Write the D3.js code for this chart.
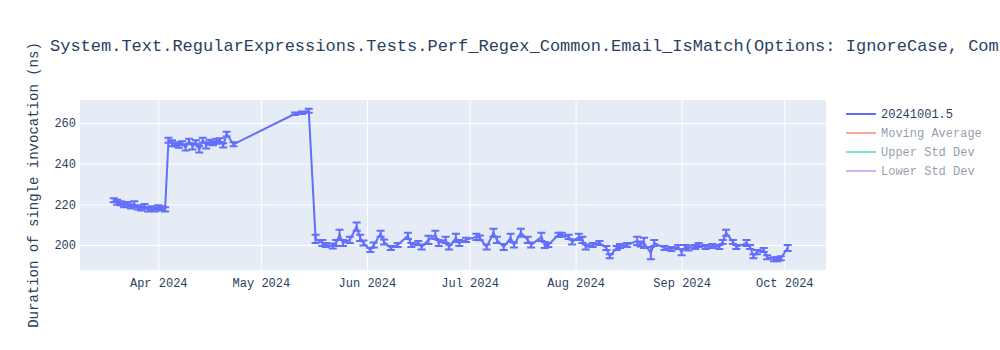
<!DOCTYPE html>
<html>
<head>
<meta charset="utf-8">
<script src="https://cdn.jsdelivr.net/npm/d3@7"></script>
<style>
  body { margin: 0; background: #fff; }
  svg text { font-family: "Courier New", Courier, "Nimbus Mono PS", "Nimbus Mono L", FreeMono, "Liberation Mono", monospace; }
</style>
</head>
<body>
<div id="chart"></div>
<script>
'use strict';

// benchmark runs (date, mean duration in ns, std dev in ns)
const runDates = [
  '2024-03-19','2024-03-20','2024-03-21','2024-03-22','2024-03-23','2024-03-24','2024-03-25','2024-03-26',
  '2024-03-27','2024-03-28','2024-03-29','2024-03-30','2024-03-31','2024-04-01','2024-04-02','2024-04-03',
  '2024-04-04','2024-04-05','2024-04-06','2024-04-07','2024-04-08','2024-04-09','2024-04-10','2024-04-11',
  '2024-04-12','2024-04-13','2024-04-14','2024-04-15','2024-04-16','2024-04-17','2024-04-18','2024-04-19',
  '2024-04-20','2024-04-21','2024-04-23',
  '2024-05-11','2024-05-13','2024-05-15',
  '2024-05-17','2024-05-19','2024-05-20','2024-05-22','2024-05-23','2024-05-24','2024-05-25','2024-05-27',
  '2024-05-29','2024-05-30','2024-05-31','2024-06-02','2024-06-03','2024-06-05','2024-06-06','2024-06-08',
  '2024-06-10','2024-06-13','2024-06-14','2024-06-16','2024-06-17','2024-06-19','2024-06-21','2024-06-22',
  '2024-06-24','2024-06-25','2024-06-27','2024-06-28','2024-06-30','2024-07-03','2024-07-04','2024-07-06',
  '2024-07-08','2024-07-09','2024-07-11','2024-07-13','2024-07-14','2024-07-16','2024-07-18','2024-07-19',
  '2024-07-22','2024-07-23','2024-07-24','2024-07-27','2024-07-28','2024-07-30','2024-07-31','2024-08-02',
  '2024-08-03','2024-08-04','2024-08-06','2024-08-08','2024-08-10','2024-08-11','2024-08-13','2024-08-14',
  '2024-08-16','2024-08-19','2024-08-20','2024-08-21','2024-08-23','2024-08-24','2024-08-27','2024-08-29',
  '2024-08-31','2024-09-01','2024-09-02','2024-09-03','2024-09-05','2024-09-06','2024-09-08','2024-09-10',
  '2024-09-12','2024-09-13','2024-09-14','2024-09-16','2024-09-17','2024-09-20','2024-09-21','2024-09-22',
  '2024-09-23','2024-09-25','2024-09-26','2024-09-28','2024-09-29','2024-09-30','2024-10-02'
];
const runValues = [
  222.0,221.0,220.5,219.5,220.0,219.0,220.0,218.5,
  218.0,219.0,217.5,218.0,217.5,218.5,218.0,217.5,
  251.5,250.0,249.5,249.0,250.0,248.0,251.0,248.5,
  250.5,247.0,251.5,249.0,250.5,250.0,251.0,251.5,
  249.0,254.5,249.5,
  264.5,265.0,266.0,
  203.0,201.0,200.0,199.5,201.0,205.0,201.0,202.5,
  209.0,203.5,201.0,197.5,200.0,205.5,201.5,198.5,
  200.0,204.5,200.0,201.0,199.0,202.5,205.0,201.0,
  202.5,199.0,203.5,201.0,202.5,204.0,203.5,199.0,
  206.0,202.5,199.0,203.5,200.0,206.0,202.5,200.0,
  204.0,200.0,200.0,205.0,205.0,204.0,201.5,204.0,
  202.5,199.0,200.0,201.0,198.5,194.5,198.5,199.5,
  200.0,202.0,200.5,201.0,196.0,201.0,198.5,198.0,
  199.0,196.5,199.0,198.5,199.0,200.0,199.0,199.5,
  199.0,201.5,206.0,201.5,199.0,201.0,199.0,194.5,
  196.5,197.5,194.0,193.0,193.0,193.5,198.5
];
const runErrors = [
  1.0,1.2,1.0,1.0,1.2,1.0,1.5,1.0,
  1.0,1.2,1.0,1.0,1.0,1.0,1.0,1.0,
  1.2,1.5,1.0,1.2,1.0,1.5,1.2,1.5,
  1.0,1.5,1.2,1.5,1.2,1.0,1.2,1.0,
  1.0,1.2,1.0,
  0.6,0.6,1.0,
  2.0,1.5,1.0,1.2,1.5,2.5,1.5,1.5,
  2.0,1.5,1.2,1.0,1.2,1.5,1.2,1.0,
  1.0,1.5,1.0,1.0,1.2,2.0,2.0,1.5,
  1.5,1.2,2.0,1.5,1.0,1.5,1.2,1.2,
  2.0,1.5,1.5,2.0,1.2,2.0,1.5,1.2,
  2.0,1.5,1.0,1.0,1.0,1.0,1.2,1.5,
  1.5,1.2,1.0,1.0,1.0,1.0,1.0,1.0,
  1.0,2.0,1.2,2.5,3.0,1.5,1.0,1.0,
  1.0,1.5,1.0,1.2,1.0,1.0,1.0,1.0,
  1.0,1.0,1.5,1.0,1.0,1.5,1.0,1.0,
  1.0,1.0,1.0,1.0,1.0,1.0,1.5
];

const legendNames = ['20241001.5', 'Moving Average', 'Upper Std Dev', 'Lower Std Dev'];
const legendColors = ['#636efa', '#EF553B', '#00cc96', '#ab63fa'];
const legendHidden = [false, true, true, true];

const yTicks = [200, 220, 240, 260];
const titleText = 'System.Text.RegularExpressions.Tests.Perf_Regex_Common.Email_IsMatch(Options: IgnoreCase, Compiled)';
const yTitle = 'Duration of single invocation (ns)';

const W = 1000, H = 350;
const plot = { left: 80, right: 826, top: 100, bottom: 270 };
const fontColor = '#2a3f5f';

const parse = d3.utcParse('%Y-%m-%d');
const points = runDates.map((d, i) => ({
  date: parse(d), value: runValues[i], err: runErrors[i]
}));

const x = d3.scaleUtc()
  .domain([new Date(Date.UTC(2024, 2, 9, 3)), new Date(Date.UTC(2024, 9, 13, 5))])
  .range([plot.left, plot.right]);
const y = d3.scaleLinear()
  .domain([187.7, 271.3])
  .range([plot.bottom, plot.top]);

const svg = d3.select('#chart').append('svg')
  .attr('width', W).attr('height', H);

svg.append('rect')
  .attr('x', plot.left).attr('y', plot.top)
  .attr('width', plot.right - plot.left).attr('height', plot.bottom - plot.top)
  .attr('fill', '#E5ECF6');

svg.append('clipPath').attr('id', 'clip')
  .append('rect')
  .attr('x', plot.left).attr('y', plot.top)
  .attr('width', plot.right - plot.left).attr('height', plot.bottom - plot.top);

// grid + axes
const xAxis = d3.axisBottom(x)
  .ticks(d3.utcMonth.every(1))
  .tickFormat(d3.utcFormat('%b %Y'))
  .tickSize(-(plot.bottom - plot.top))
  .tickPadding(8);
const $x = svg.append('g')
  .attr('transform', `translate(0, ${plot.bottom})`)
  .call(xAxis);
$x.select('.domain').remove();
$x.selectAll('.tick line').attr('stroke', '#fff').attr('stroke-width', 1);
$x.selectAll('.tick text')
  .attr('fill', fontColor).attr('font-size', 12)
  .attr('font-family', null);

const yAxis = d3.axisLeft(y)
  .tickValues(yTicks)
  .tickSize(-(plot.right - plot.left))
  .tickPadding(4);
const $y = svg.append('g')
  .attr('transform', `translate(${plot.left}, 0)`)
  .call(yAxis);
$y.select('.domain').remove();
$y.selectAll('.tick line').attr('stroke', '#fff').attr('stroke-width', 1);
$y.selectAll('.tick text')
  .attr('fill', fontColor).attr('font-size', 12)
  .attr('font-family', null);
$x.attr('font-family', null);
$y.attr('font-family', null);

// data
const $data = svg.append('g').attr('clip-path', 'url(#clip)');
const line = d3.line().x(d => x(d.date)).y(d => y(d.value));
$data.append('path')
  .datum(points)
  .attr('d', line)
  .attr('fill', 'none')
  .attr('stroke', legendColors[0])
  .attr('stroke-width', 2);

const capW = 4;
$data.selectAll('.errbar')
  .data(points)
  .enter().append('path')
  .attr('class', 'errbar')
  .attr('d', d => {
    const cx = x(d.date), y0 = y(d.value - d.err), y1 = y(d.value + d.err);
    return `M${cx - capW},${y1}h${capW * 2}m-${capW},0V${y0}m-${capW},0h${capW * 2}`;
  })
  .attr('fill', 'none')
  .attr('stroke', legendColors[0])
  .attr('stroke-width', 2);

// titles
svg.append('text')
  .attr('x', 50).attr('y', 51)
  .attr('font-size', 17)
  .attr('fill', fontColor)
  .text(titleText);

svg.append('text')
  .attr('transform', `translate(38, ${(plot.top + plot.bottom) / 2}) rotate(-90)`)
  .attr('text-anchor', 'middle')
  .attr('font-size', 14)
  .attr('fill', fontColor)
  .text(yTitle);

// legend
const $legend = svg.append('g').attr('transform', 'translate(846, 114)');
const $items = $legend.selectAll('.legend-item')
  .data(legendNames)
  .enter().append('g')
  .attr('class', 'legend-item')
  .attr('transform', (d, i) => `translate(0, ${i * 19})`)
  .attr('opacity', (d, i) => legendHidden[i] ? 0.5 : 1);
$items.append('line')
  .attr('x1', 0).attr('x2', 30)
  .attr('stroke', (d, i) => legendColors[i])
  .attr('stroke-width', 2);
$items.append('text')
  .attr('x', 35).attr('dy', '0.35em')
  .attr('font-size', 12)
  .attr('fill', fontColor)
  .text(d => d);
</script>
</body>
</html>
